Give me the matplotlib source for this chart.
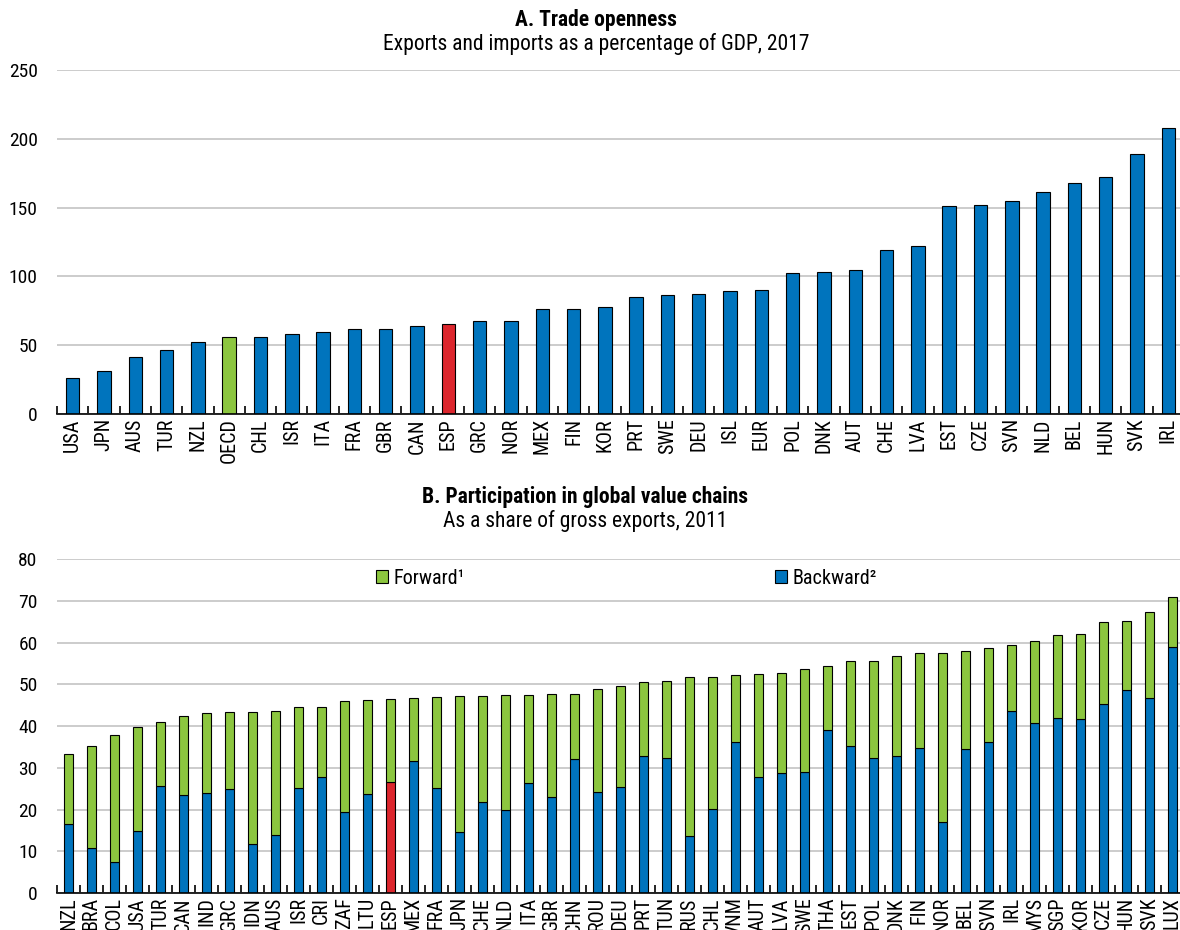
import matplotlib
matplotlib.use("Agg")
import matplotlib.pyplot as plt
from matplotlib.patches import Patch
from matplotlib.ticker import FixedLocator, MultipleLocator

plt.rcParams['font.family'] = ['Roboto Condensed', 'DejaVu Sans']

# Panel A: trade openness, 2017
trade_countries = ["USA", "JPN", "AUS", "TUR", "NZL", "OECD", "CHL", "ISR", "ITA", "FRA",
                   "GBR", "CAN", "ESP", "GRC", "NOR", "MEX", "FIN", "KOR", "PRT", "SWE",
                   "DEU", "ISL", "EUR", "POL", "DNK", "AUT", "CHE", "LVA", "EST", "CZE",
                   "SVN", "NLD", "BEL", "HUN", "SVK", "IRL"]
trade_openness = [26.4, 31.0, 41.7, 46.8, 52.3, 55.7, 55.7, 58.1, 59.4, 61.8,
                  62.0, 64.0, 65.6, 67.3, 67.8, 76.1, 76.3, 77.8, 85.0, 86.5,
                  87.0, 89.6, 89.9, 102.7, 103.2, 104.7, 118.9, 121.9, 150.9, 151.6,
                  154.7, 161.3, 168.1, 172.2, 189.0, 207.8]

# Panel B: participation in global value chains, 2011
gvc_countries = ["NZL", "BRA", "COL", "USA", "TUR", "CAN", "IND", "GRC", "IDN", "AUS",
                 "ISR", "CRI", "ZAF", "LTU", "ESP", "MEX", "FRA", "JPN", "CHE", "NLD",
                 "ITA", "GBR", "CHN", "ROU", "DEU", "PRT", "TUN", "RUS", "CHL", "VNM",
                 "AUT", "LVA", "SWE", "THA", "EST", "POL", "DNK", "FIN", "NOR", "BEL",
                 "SVN", "IRL", "MYS", "SGP", "KOR", "CZE", "HUN", "SVK", "LUX"]
gvc_backward = [16.5, 10.7, 7.5, 14.9, 25.6, 23.4, 24.0, 24.8, 11.8, 13.9,
                25.1, 27.7, 19.4, 23.6, 26.7, 31.5, 25.1, 14.6, 21.7, 19.9,
                26.4, 22.9, 32.1, 24.3, 25.5, 32.7, 32.3, 13.7, 20.1, 36.2,
                27.8, 28.7, 29.1, 39.0, 35.1, 32.3, 32.7, 34.7, 17.1, 34.5,
                36.2, 43.6, 40.6, 41.8, 41.7, 45.3, 48.6, 46.8, 58.9]
gvc_total = [33.2, 35.2, 37.8, 39.8, 40.9, 42.4, 43.1, 43.3, 43.4, 43.6,
             44.5, 44.6, 45.9, 46.2, 46.5, 46.6, 46.9, 47.3, 47.3, 47.4,
             47.4, 47.6, 47.6, 48.9, 49.6, 50.5, 50.7, 51.7, 51.7, 52.2,
             52.5, 52.7, 53.7, 54.3, 55.5, 55.6, 56.7, 57.4, 57.6, 58.0,
             58.7, 59.3, 60.3, 61.7, 62.1, 64.8, 65.2, 67.3, 70.8]
gvc_forward = [t - b for t, b in zip(gvc_total, gvc_backward)]

BLUE = "#0074BD"
GREEN = "#8CC63F"
RED = "#DC262D"
GRID = "#C8C8C8"

W, H = 1180, 930
fig = plt.figure(figsize=(W / 100, H / 100), dpi=100)


def style_axes(ax, n, ymax, ystep):
    ax.set_xlim(-0.5, n - 0.5)
    ax.set_ylim(0, ymax)
    ax.yaxis.set_major_locator(MultipleLocator(ystep))
    for s in ("left", "right", "top"):
        ax.spines[s].set_visible(False)
    ax.spines["bottom"].set_linewidth(1.2)
    ax.spines["bottom"].set_zorder(4)
    ax.grid(axis="y", color=GRID, linewidth=1.3)
    ax.set_axisbelow(True)
    ax.tick_params(axis="y", length=0, labelsize=14, pad=14)
    ax.tick_params(axis="x", which="major", length=0, labelsize=14.5,
                   labelrotation=90, pad=3)
    ax.xaxis.set_minor_locator(FixedLocator([i - 0.5 for i in range(n + 1)]))
    ax.tick_params(axis="x", which="minor", direction="in", length=5.5,
                   width=1.2, color="black")


# --- Panel A ---
axA = fig.add_axes([57 / W, 1 - 414 / H, 1127 / W, 344 / H])
xa = range(len(trade_countries))
colors_a = [GREEN if c == "OECD" else RED if c == "ESP" else BLUE for c in trade_countries]
axA.bar(xa, trade_openness, width=0.43, color=colors_a, edgecolor="black",
        linewidth=0.8, zorder=3)
axA.set_xticks(list(xa))
axA.set_xticklabels(trade_countries)
style_axes(axA, len(trade_countries), 250, 50)

fig.text(596 / W, 1 - 20 / H, "A. Trade openness", ha="center", va="center",
         fontsize=15.5, fontweight="bold")
fig.text(596 / W, 1 - 44 / H, "Exports and imports as a percentage of GDP, 2017",
         ha="center", va="center", fontsize=15.5)

# --- Panel B ---
axB = fig.add_axes([57 / W, 1 - 893 / H, 1127 / W, 334 / H])
xb = range(len(gvc_countries))
colors_b = [RED if c == "ESP" else BLUE for c in gvc_countries]
axB.bar(xb, gvc_backward, width=0.42, color=colors_b, edgecolor="black",
        linewidth=0.8, zorder=3)
axB.bar(xb, gvc_forward, bottom=gvc_backward, width=0.42, color=GREEN,
        edgecolor="black", linewidth=0.8, zorder=3)
axB.set_xticks(list(xb))
axB.set_xticklabels(gvc_countries)
style_axes(axB, len(gvc_countries), 80, 10)

fig.text(585 / W, 1 - 497 / H, "B. Participation in global value chains",
         ha="center", va="center", fontsize=15.5, fontweight="bold")
fig.text(585 / W, 1 - 521 / H, "As a share of gross exports, 2011",
         ha="center", va="center", fontsize=15.5)

leg_kw = dict(frameon=False, fontsize=14.5, handlelength=0.6, handleheight=0.6,
              handletextpad=0.25, borderpad=0, borderaxespad=0, loc="center left")
leg_f = axB.legend(handles=[Patch(facecolor=GREEN, edgecolor="black", linewidth=0.8)],
                   labels=["Forward\u00b9"], bbox_to_anchor=(376 / W, 1 - 578 / H),
                   bbox_transform=fig.transFigure, **leg_kw)
axB.add_artist(leg_f)
axB.legend(handles=[Patch(facecolor=BLUE, edgecolor="black", linewidth=0.8)],
           labels=["Backward\u00b2"], bbox_to_anchor=(775 / W, 1 - 578 / H),
           bbox_transform=fig.transFigure, **leg_kw)

fig.savefig("out.png", dpi=100)
